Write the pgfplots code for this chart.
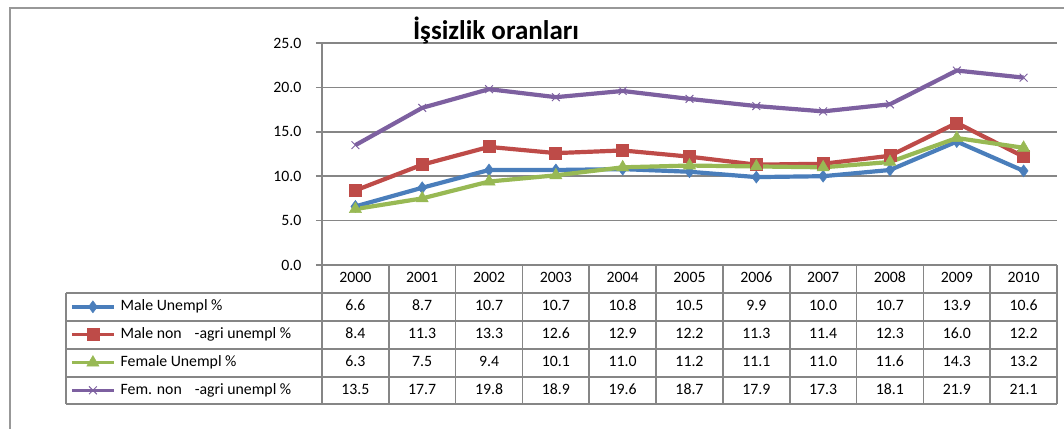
\documentclass[border=0pt]{standalone}
\usepackage{pgfplots}
\usepackage{pgfplotstable}
\pgfplotsset{compat=1.18}
\usepackage{fontspec}
\setmainfont{Carlito}
\definecolor{cblue}{HTML}{4A7EBB}
\definecolor{cred}{HTML}{BE4B48}
\definecolor{cgreen}{HTML}{98B954}
\definecolor{cpurple}{HTML}{7D60A0}
\definecolor{gridgray}{HTML}{868686}

\pgfplotstableread{
x  m     mna   f     fna
0  6.6   8.4   6.3   13.5
1  8.7   11.3  7.5   17.7
2  10.7  13.3  9.4   19.8
3  10.7  12.6  10.1  18.9
4  10.8  12.9  11.0  19.6
5  10.5  12.2  11.2  18.7
6  9.9   11.3  11.1  17.9
7  10.0  11.4  11.0  17.3
8  10.7  12.3  11.6  18.1
9  13.9  16.0  14.3  21.9
10 10.6  12.2  13.2  21.1
}\datatable

\newcommand{\tabfont}{\fontsize{15.8bp}{18bp}\selectfont}

\begin{document}
\begin{tikzpicture}
\useasboundingbox (0,0) rectangle (1064bp,-429bp);
\begin{axis}[
  at={(322bp,-265bp)}, anchor=south west,
  scale only axis, width=735bp, height=222bp,
  xmin=-0.5, xmax=10.5, ymin=0, ymax=25,
  clip=false,
  axis x line=none, axis y line*=left,
  y axis line style={gridgray, line width=1.7bp},
  xtick=\empty,
  ytick={0,5,10,15,20,25},
  ymajorgrids,
  grid style={gridgray, line width=1.7bp},
  tick align=outside,
  major tick length=6bp,
  tick style={gridgray, line width=1.7bp},
  yticklabel style={font=\tabfont, text=black, xshift=-11bp,
    /pgf/number format/.cd, fixed, fixed zerofill, precision=1, assume math mode=true},
  legend cell align=left,
  legend style={at={(axis description cs:-0.3429,-0.157)}, anchor=north west,
    draw=none, fill=none, inner sep=0pt, row sep=14.25bp, column sep=5bp,
    font=\tabfont,
    nodes={inner sep=0pt, text height=10.5bp, text depth=3bp}},
  legend image code/.code={\draw[#1, line width=3.5bp, mark repeat=2, mark phase=2]
    plot coordinates {(0bp,0bp) (21bp,0bp) (42bp,0bp)};},
]
\addplot[cblue, line width=4.2bp, mark=diamond*, mark size=6bp,
  mark options={solid, line width=0.5bp}] table[x=x, y=m] {\datatable};
\addlegendentry{Male Unempl \%}
\addplot[cred, line width=4.2bp, mark=square*, mark size=6bp,
  mark options={solid, line width=0.8bp}] table[x=x, y=mna] {\datatable};
\addlegendentry{Male non\hspace{13bp}-agri unempl \%}
\addplot[cgreen, line width=4.2bp, mark=triangle*, mark size=7bp,
  mark options={solid, line width=0.5bp}] table[x=x, y=f] {\datatable};
\addlegendentry{Female Unempl \%}
\addplot[cpurple, line width=4.2bp, mark=x, mark size=5.5bp,
  mark options={solid, line width=1bp}] table[x=x, y=fna] {\datatable};
\addlegendentry{Fem. non\hspace{13bp}-agri unempl \%}
\end{axis}

\begin{scope}[x=1bp, y=-1bp]
  % outer chart frame
  \draw[gridgray!85, line width=1.7bp] (10,429) -- (10,8) -- (1064,8);
  % title
  \node[font=\bfseries\fontsize{27bp}{31bp}\selectfont] at (496,30) {İşsizlik oranları};
  % data table grid
  \draw[gridgray, line width=1.7bp] (322,265) -- (1057,265);
  \foreach \yy in {293,321,349,377,404} \draw[gridgray, line width=1.7bp] (66,\yy) -- (1057,\yy);
  \draw[gridgray, line width=1.7bp] (66,293) -- (66,404);
  \foreach \k in {0,...,11} \draw[gridgray, line width=1.7bp] ({322+\k*66.818},265) -- ({322+\k*66.818},404);
  % header
  \foreach \v [count=\k from 0] in {2000,2001,2002,2003,2004,2005,2006,2007,2008,2009,2010}
    \node[font=\tabfont, inner sep=0pt, text height=10.5bp, text depth=3bp] at ({322+(\k+0.5)*66.818},279) {\v};
  \foreach \v [count=\k from 0] in {6.6,8.7,10.7,10.7,10.8,10.5,9.9,10.0,10.7,13.9,10.6}
    \node[font=\tabfont, inner sep=0pt, text height=10.5bp, text depth=3bp] at ({322+(\k+0.5)*66.818},307) {\v};
  \foreach \v [count=\k from 0] in {8.4,11.3,13.3,12.6,12.9,12.2,11.3,11.4,12.3,16.0,12.2}
    \node[font=\tabfont, inner sep=0pt, text height=10.5bp, text depth=3bp] at ({322+(\k+0.5)*66.818},335) {\v};
  \foreach \v [count=\k from 0] in {6.3,7.5,9.4,10.1,11.0,11.2,11.1,11.0,11.6,14.3,13.2}
    \node[font=\tabfont, inner sep=0pt, text height=10.5bp, text depth=3bp] at ({322+(\k+0.5)*66.818},363) {\v};
  \foreach \v [count=\k from 0] in {13.5,17.7,19.8,18.9,19.6,18.7,17.9,17.3,18.1,21.9,21.1}
    \node[font=\tabfont, inner sep=0pt, text height=10.5bp, text depth=3bp] at ({322+(\k+0.5)*66.818},390.5) {\v};
\end{scope}
\end{tikzpicture}
\end{document}
